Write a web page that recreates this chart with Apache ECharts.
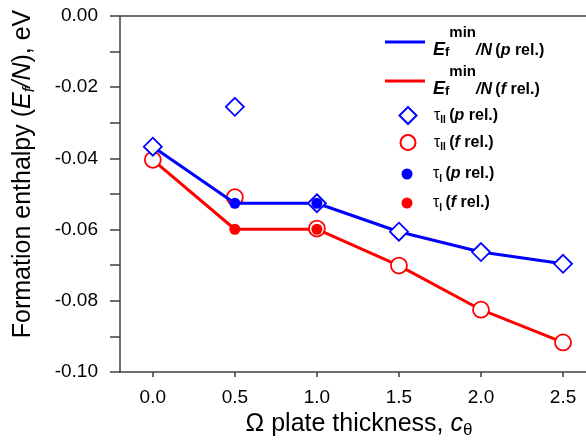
<!DOCTYPE html>
<html>
<head>
<meta charset="utf-8">
<script src="https://cdn.jsdelivr.net/npm/echarts@6/dist/echarts.min.js"></script>
<style>
  html, body { margin: 0; padding: 0; background: #fff; }
  #chart { width: 586px; height: 447px; }
</style>
</head>
<body>
<div id="chart"></div>
<script>
// Omega plate thickness values (c_theta)
const thickness = [0, 0.5, 1.0, 1.5, 2.0, 2.5];
const thicknessTauI = [0.5, 1.0];
const xTicks = [0, 0.5, 1.0, 1.5, 2.0, 2.5];

// Formation enthalpy per atom, eV
const tauIIp = [-0.0367, -0.0255, -0.0526, -0.0606, -0.0663, -0.0696];
const tauIIf = [-0.0404, -0.0509, -0.0597, -0.0701, -0.0825, -0.0917];
const tauIp = [-0.0526, -0.0526];
const tauIf = [-0.0599, -0.0599];
const eminP = [-0.0367, -0.0526, -0.0526, -0.0606, -0.0663, -0.0696];
const eminF = [-0.0404, -0.0599, -0.0599, -0.0701, -0.0825, -0.0917];

const BLUE = '#0000ff';
const RED = '#ff0000';
const AXIS = '#404040';
const FONT = 'Liberation Sans, Arial, sans-serif';

const pairs = (xs, ys) => xs.map((x, i) => [x, ys[i]]);

// rich styles for the E_f^min/N legend entries
const eRich = {
  E: { fontSize: 18, fontWeight: 'bold', fontStyle: 'italic', lineHeight: 25, verticalAlign: 'bottom', fontFamily: FONT, color: '#000' },
  sub: { fontSize: 13, fontWeight: 'bold', lineHeight: 17, verticalAlign: 'bottom', fontFamily: FONT, color: '#000' },
  sup: { fontSize: 15, fontWeight: 'bold', lineHeight: 25, verticalAlign: 'top', fontFamily: FONT, color: '#000' },
  bi: { fontSize: 16, fontWeight: 'bold', fontStyle: 'italic', lineHeight: 25, verticalAlign: 'bottom', fontFamily: FONT, color: '#000' },
  b: { fontSize: 16, fontWeight: 'bold', lineHeight: 25, verticalAlign: 'bottom', fontFamily: FONT, color: '#000' },
  pad: { lineHeight: 34, verticalAlign: 'top', fontSize: 1 }
};
// rich styles for the tau legend entries
const tRich = {
  t: { fontSize: 16, lineHeight: 20, verticalAlign: 'middle', fontFamily: FONT, color: '#000' },
  sub: { fontSize: 10, fontWeight: 'bold', lineHeight: 13, verticalAlign: 'bottom', fontFamily: FONT, color: '#000' },
  bi: { fontSize: 16, fontWeight: 'bold', fontStyle: 'italic', lineHeight: 20, verticalAlign: 'middle', fontFamily: FONT, color: '#000' },
  b: { fontSize: 16, fontWeight: 'bold', lineHeight: 20, verticalAlign: 'middle', fontFamily: FONT, color: '#000' }
};

const legendNames = {
  'Emin p': '{E|E}{sub|f}{sup|min}{bi|/N} {b|(}{bi|p}{b| rel.)}{pad| }',
  'Emin f': '{E|E}{sub|f}{sup|min}{bi|/N} {b|(}{bi|f}{b| rel.)}{pad| }',
  'tauII p': '{t|τ}{sub|II} {b|(}{bi|p}{b| rel.)}',
  'tauII f': '{t|τ}{sub|II} {b|(}{bi|f}{b| rel.)}',
  'tauI p': '{t|τ}{sub|I} {b|(}{bi|p}{b| rel.)}',
  'tauI f': '{t|τ}{sub|I} {b|(}{bi|f}{b| rel.)}'
};

// line legend: 40px stroke; symbol legend: square icon centred at x=407, text at x=433
function lineLegend(name, top, color) {
  return {
    data: [{ name: name, icon: 'rect', itemStyle: { color: color } }],
    left: 385, top: top, padding: 0,
    itemWidth: 40, itemHeight: 3,
    selectedMode: false,
    formatter: n => legendNames[n],
    textStyle: { rich: eRich, padding: [0, 0, 0, 3] }
  };
}
function symbolLegend(name, top, size) {
  const left = 407 - size / 2;
  return {
    data: [name],
    left: left, top: top, padding: 0,
    itemWidth: size, itemHeight: size,
    selectedMode: false,
    formatter: n => legendNames[n],
    textStyle: { rich: tRich, padding: [0, 0, 0, 433 - (left + size + 5)] }
  };
}

const chart = echarts.init(document.getElementById('chart'), null, { renderer: 'canvas' });

const titleRich = {
  r: { fontSize: 25, fontFamily: FONT, color: '#000', lineHeight: 29, verticalAlign: 'middle' },
  i: { fontSize: 25, fontStyle: 'italic', fontFamily: FONT, color: '#000', lineHeight: 29, verticalAlign: 'middle' },
  s: { fontSize: 17, fontFamily: FONT, color: '#000', lineHeight: 16, verticalAlign: 'bottom' },
  si: { fontSize: 17, fontStyle: 'italic', fontFamily: FONT, color: '#000', lineHeight: 16, verticalAlign: 'bottom' }
};

chart.setOption({
  animation: false,
  backgroundColor: '#fff',
  grid: { left: 120, top: 16, right: 0, bottom: 75 },
  legend: [
    lineLegend('Emin p', 25, BLUE),
    lineLegend('Emin f', 64, RED),
    symbolLegend('tauII p', 106, 17),
    symbolLegend('tauII f', 134, 15),
    symbolLegend('tauI p', 166, 11),
    symbolLegend('tauI f', 195, 11)
  ],
  xAxis: [
    {
      type: 'value',
      min: -0.2,
      max: 2.64,
      splitLine: { show: false },
      axisLine: { onZero: false, lineStyle: { color: AXIS, width: 1.5 } },
      axisTick: { show: true, inside: false, length: 5, customValues: xTicks, lineStyle: { color: AXIS, width: 1.5 } },
      axisLabel: {
        customValues: xTicks,
        formatter: v => v.toFixed(1),
        fontSize: 19, fontFamily: FONT, color: '#000', margin: 16
      },
      name: '{r|Ω plate thickness, }{i|c}{s|θ}',
      nameLocation: 'middle',
      nameGap: 36,
      nameTextStyle: { padding: [0, 0, 0, 12], rich: titleRich }
    },
    {
      // upper frame line
      type: 'value',
      position: 'top',
      min: -0.2,
      max: 2.64,
      splitLine: { show: false },
      axisLine: { onZero: false, lineStyle: { color: AXIS, width: 1.5 } },
      axisTick: { show: false },
      axisLabel: { show: false }
    }
  ],
  yAxis: {
    type: 'value',
    min: -0.1,
    max: 0,
    interval: 0.02,
    splitLine: { show: false },
    axisLine: { show: true, onZero: false, lineStyle: { color: AXIS, width: 1.5 } },
    axisTick: { show: true, inside: false, length: 10, lineStyle: { color: AXIS, width: 1.5 } },
    minorTick: { show: true, splitNumber: 2, length: 10, lineStyle: { color: AXIS, width: 1.5 } },
    axisLabel: {
      formatter: v => v.toFixed(2),
      fontSize: 19, fontFamily: FONT, color: '#000', margin: 22
    },
    name: '{r|Formation enthalpy (}{i|E}{si|f}{i|/N}{r|), eV}',
    nameLocation: 'middle',
    nameGap: 82,
    nameTextStyle: { padding: [0, 0, 0, 40], rich: titleRich }
  },
  series: [
    {
      name: 'Emin f', type: 'line', data: pairs(thickness, eminF),
      symbol: 'none', lineStyle: { color: RED, width: 3 }, itemStyle: { color: RED }, z: 2
    },
    {
      name: 'tauII f', type: 'scatter', data: pairs(thickness, tauIIf),
      symbol: 'circle', symbolSize: 16,
      itemStyle: { color: '#fff', borderColor: RED, borderWidth: 1.8, opacity: 1 }, z: 3
    },
    {
      name: 'Emin p', type: 'line', data: pairs(thickness, eminP),
      symbol: 'none', lineStyle: { color: BLUE, width: 3 }, itemStyle: { color: BLUE }, z: 4
    },
    {
      name: 'tauII p', type: 'scatter', data: pairs(thickness, tauIIp),
      symbol: 'diamond', symbolSize: 18,
      itemStyle: { color: '#fff', borderColor: BLUE, borderWidth: 1.8, opacity: 1 }, z: 5
    },
    {
      name: 'tauI p', type: 'scatter', data: pairs(thicknessTauI, tauIp),
      symbol: 'circle', symbolSize: 11, itemStyle: { color: BLUE, opacity: 1 }, z: 6
    },
    {
      name: 'tauI f', type: 'scatter', data: pairs(thicknessTauI, tauIf),
      symbol: 'circle', symbolSize: 11, itemStyle: { color: RED, opacity: 1 }, z: 6
    }
  ]
});
</script>
</body>
</html>
